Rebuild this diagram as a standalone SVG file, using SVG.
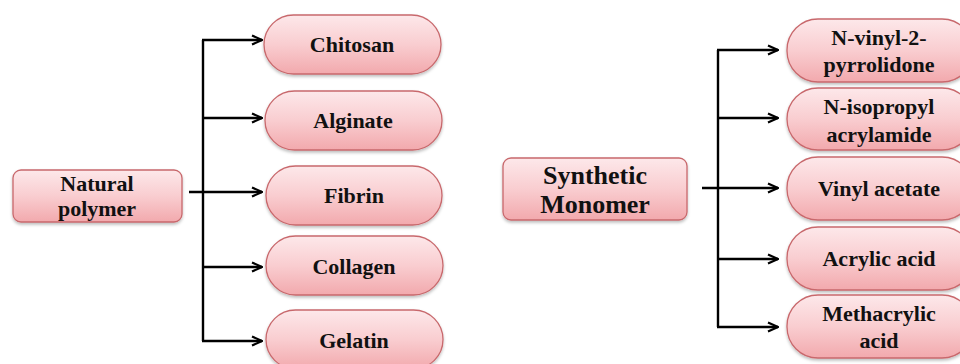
<svg xmlns="http://www.w3.org/2000/svg" width="960" height="364" viewBox="0 0 960 364">
<defs>
<linearGradient id="pink" x1="0" y1="0" x2="0" y2="1">
<stop offset="0" stop-color="#fde8ea"/>
<stop offset="0.5" stop-color="#f9cdd0"/>
<stop offset="1" stop-color="#f2a9ad"/>
</linearGradient>
<filter id="sh" x="-10%" y="-10%" width="120%" height="130%">
<feDropShadow dx="0" dy="2" stdDeviation="1.5" flood-color="#000" flood-opacity="0.25"/>
</filter>
<marker id="arr" viewBox="0 0 12 12" refX="11" refY="6" markerWidth="12" markerHeight="12" markerUnits="userSpaceOnUse" orient="auto">
<path d="M1,1.5 L11,6 L1,10.5" fill="none" stroke="#000" stroke-width="2.2" stroke-linejoin="miter"/>
</marker>
</defs>
<style>
.box{fill:url(#pink);stroke:#c8686c;stroke-width:1.3;filter:url(#sh)}
text{font-family:'Liberation Serif','Times New Roman',Times,serif;font-weight:bold;font-size:22px;fill:#111;text-anchor:middle}
.big{font-size:26px}
.c{fill:none;stroke:#000;stroke-width:2.4}
</style>
<g id="connectors">
<path class="c" d="M203,40 V341"/>
<path class="c" d="M202,40 H262" marker-end="url(#arr)"/>
<path class="c" d="M202,118 H262" marker-end="url(#arr)"/>
<path class="c" d="M189,192 H262" marker-end="url(#arr)"/>
<path class="c" d="M202,267 H262" marker-end="url(#arr)"/>
<path class="c" d="M202,341 H262" marker-end="url(#arr)"/>
<path class="c" d="M718,50 V327"/>
<path class="c" d="M717,50 H778" marker-end="url(#arr)"/>
<path class="c" d="M717,118 H778" marker-end="url(#arr)"/>
<path class="c" d="M702,188 H778" marker-end="url(#arr)"/>
<path class="c" d="M717,259 H778" marker-end="url(#arr)"/>
<path class="c" d="M717,327 H778" marker-end="url(#arr)"/>
</g>
<g id="natural">
<rect class="box" x="13" y="170" width="169" height="52" rx="8"/>
<text font-family="Liberation Serif, serif" x="97" y="191">Natural</text>
<text font-family="Liberation Serif, serif" x="97" y="216">polymer</text>
</g>
<g id="chitosan">
<rect class="box" x="264" y="15" width="177" height="59" rx="29.5"/>
<text x="352" y="52">Chitosan</text>
</g>
<g id="alginate">
<rect class="box" x="265" y="91" width="177" height="59" rx="29.5"/>
<text x="353" y="128">Alginate</text>
</g>
<g id="fibrin">
<rect class="box" x="266" y="166" width="176" height="59" rx="29.5"/>
<text x="354" y="203">Fibrin</text>
</g>
<g id="collagen">
<rect class="box" x="266" y="236" width="177" height="59" rx="29.5"/>
<text x="354" y="274">Collagen</text>
</g>
<g id="gelatin">
<rect class="box" x="266" y="310" width="177" height="59" rx="29.5"/>
<text x="354" y="348">Gelatin</text>
</g>
<g id="synthetic">
<rect class="box" x="503" y="158" width="184" height="62" rx="8"/>
<text class="big" x="595" y="184">Synthetic</text>
<text class="big" x="595" y="213">Monomer</text>
</g>
<g id="nvinyl">
<rect class="box" x="787" y="19" width="186" height="63" rx="31"/>
<text x="879" y="45">N-vinyl-2-</text>
<text x="879" y="72">pyrrolidone</text>
</g>
<g id="nisopropyl">
<rect class="box" x="787" y="88" width="186" height="62" rx="31"/>
<text x="879" y="114">N-isopropyl</text>
<text x="879" y="142">acrylamide</text>
</g>
<g id="vinylacetate">
<rect class="box" x="787" y="157" width="186" height="63" rx="31"/>
<text x="879" y="196">Vinyl acetate</text>
</g>
<g id="acrylic">
<rect class="box" x="787" y="227" width="186" height="63" rx="31"/>
<text x="879" y="266">Acrylic acid</text>
</g>
<g id="methacrylic">
<rect class="box" x="787" y="295" width="186" height="63" rx="31"/>
<text x="879" y="321">Methacrylic</text>
<text x="879" y="348">acid</text>
</g>
</svg>
